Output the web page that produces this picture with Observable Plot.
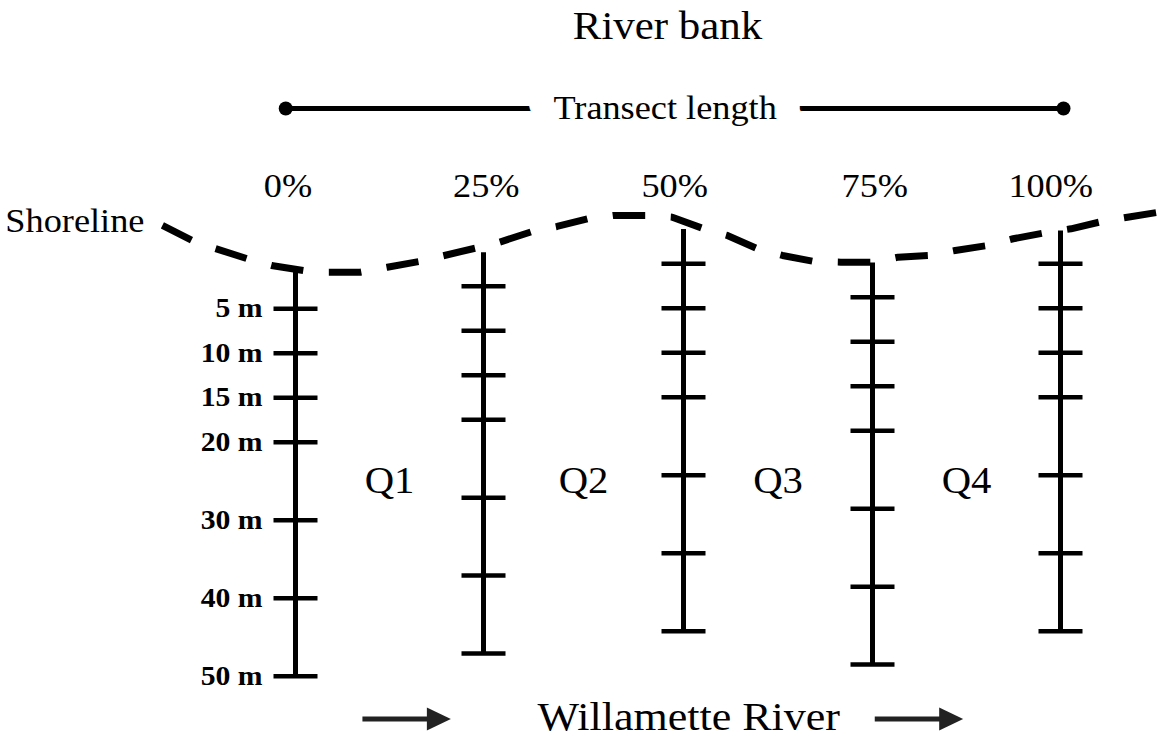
<!DOCTYPE html>
<html>
<head>
<meta charset="utf-8">
<script src="https://cdn.jsdelivr.net/npm/d3@7"></script>
<script src="https://cdn.jsdelivr.net/npm/@observablehq/plot@0.6"></script>
<style>
  html, body { margin: 0; padding: 0; background: #ffffff; }
  #chart { width: 1159px; height: 742px; overflow: hidden; }
</style>
</head>
<body>
<div id="chart"></div>
<script>
// ---------- data ----------
// transect positions along the bank (% of transect length)
const transectPct = [0, 25, 50, 75, 100];
const percentLabels = ["0%", "25%", "50%", "75%", "100%"];
// where each percent label sits (% along bank)
const percentLabelPct = [-1.0, 25.35, 48.9, 75.3, 98.7];
// vertical offset of each transect's 0 m point (m, relative to the first transect)
const transectTop = [0, -2.54, -5.06, -1.30, -5.06];
// depth (m) at which each transect line meets the shoreline
const transectStart = [0.5, 1.2, 1.1, 1.1, 1.25];
// sampling depths along each transect
const tickDepths = [5, 10, 15, 20, 30, 40, 50];
const depthLabels = ["5 m", "10 m", "15 m", "20 m", "30 m", "40 m", "50 m"];
// quadrants between transects
const quadrantNames = ["Q1", "Q2", "Q3", "Q4"];
const quadrantPct = [12.5, 37.5, 62.5, 87.5];
const quadrantDepth = 25;
// shoreline (dashed) : position along bank (%) and level (m relative to first transect 0 m)
const shorePct = [-17.7,-13.7,-10.8,-6.4,-3.2,1.1,4.4,8.6,12.2,16.4,19.8,23.9,27.0,31.1,34.2,38.0,41.2,45.3,48.6,52.7,55.8,59.8,63.1,67.3,70.8,75.2,78.4,82.6,86.0,90.3,93.7,97.9,101.4,105.5,108.9,113.0];
const shoreLevel = [-4.36,-2.67,-1.81,-0.62,0.13,0.70,0.89,0.89,0.33,-0.31,-0.99,-1.81,-2.48,-3.69,-4.25,-5.11,-5.48,-5.48,-5.29,-3.99,-3.24,-1.74,-0.99,-0.31,-0.24,-0.24,-0.80,-0.99,-1.55,-2.11,-2.87,-3.54,-3.99,-4.81,-5.29,-5.85];
// transect-length bar ends (% along bank)
const lengthBarPct = [-1.3, 100.4];
// river flow arrows (% along bank)
const flowStart = [8.9, 75.3];
const flowEnd = [17.6, 84.0];
// annotation rows (m, relative to first transect 0 m)
const titleRow = -26.7, lengthRow = -17.5, percentRow = -8.74, riverRow = 51.1;
const titleText = "River bank", lengthText = "Transect length", riverText = "Willamette River", shoreText = "Shoreline";

// ---------- derived tables ----------
// schematic depth axis: 0–20 m drawn at full scale, 20–50 m compressed
const depthPos = d3.scaleLinear().domain([0, 20, 50]).range([0, 20, 46.28]);
const transects = transectPct.map((p, i) => ({pct: p, top: transectTop[i], start: transectStart[i]}));
const pctLabels = percentLabels.map((l, i) => ({label: l, pct: percentLabelPct[i]}));
const ticks = transects.flatMap(t => tickDepths.map((d, j) => ({pct: t.pct, y: t.top + depthPos(d), label: depthLabels[j]})));
const shore = shorePct.map((p, i) => ({pct: p, y: shoreLevel[i]}));
const quads = quadrantNames.map((q, i) => ({name: q, pct: quadrantPct[i], y: depthPos(quadrantDepth)}));
const flows = flowStart.map((s, i) => ({x1: s, x2: flowEnd[i], y: riverRow}));

const hbar = {draw(ctx) { ctx.moveTo(-22, 0); ctx.lineTo(22, 0); }};
const head = {draw(ctx) { ctx.moveTo(-1, -11.5); ctx.lineTo(23, 0); ctx.lineTo(-1, 11.5); ctx.closePath(); }};

const serif = "'Liberation Serif', 'Times New Roman', Times, serif";

const chart = Plot.plot({
  width: 1159,
  height: 742,
  margin: 0,
  x: {type: "linear", domain: [0, 25, 50, 75, 100], range: [295, 483, 683, 872, 1060], axis: null},
  y: {type: "linear", domain: [-29.64, 53.73], range: [0, 742], axis: null},
  style: {fontFamily: serif, background: "#ffffff", color: "#000"},
  marks: [
    // shoreline
    Plot.line(shore, {x: "pct", y: "y", stroke: "#000", strokeWidth: 7, strokeDasharray: "32.5,25.6", strokeLinecap: "butt", curve: "linear"}),
    // transect lines
    Plot.link(transects, {x1: "pct", x2: "pct", y1: t => t.top + depthPos(t.start), y2: t => t.top + depthPos(50), stroke: "#000", strokeWidth: 5}),
    // sampling ticks
    Plot.dot(ticks, {x: "pct", y: "y", symbol: hbar, r: 5, stroke: "#000", fill: "none", strokeWidth: 4.5}),
    // depth labels on first transect
    Plot.text(ticks.filter(t => t.pct === transectPct[0]), {x: "pct", y: "y", text: "label", textAnchor: "end", dx: -33, fontSize: 27, fontWeight: "bold", fill: "#000", lineAnchor: "middle"}),
    // quadrant labels
    Plot.text(quads, {x: "pct", y: "y", text: "name", fontSize: 37, fill: "#000", lineAnchor: "middle"}),
    // percent labels
    Plot.text(pctLabels, {x: "pct", y: () => percentRow, text: "label", fontSize: 33, fill: "#000", lineAnchor: "middle"}),
    // transect length bar
    Plot.link([lengthBarPct], {x1: d => d[0], x2: d => d[1], y1: () => lengthRow, y2: () => lengthRow, stroke: "#000", strokeWidth: 5}),
    Plot.dot(lengthBarPct, {x: d => d, y: () => lengthRow, r: 7, fill: "#000"}),
    Plot.text([lengthText], {x: () => 47.7, y: () => lengthRow, text: d => d, fontSize: 33, fill: "#000", stroke: "#fff", strokeWidth: 46, lineAnchor: "middle"}),
    // title
    Plot.text([titleText], {x: () => 48, y: () => titleRow, text: d => d, fontSize: 39, fill: "#000", lineAnchor: "middle"}),
    // shoreline label
    Plot.text([shore[0]], {x: "pct", y: "y", text: () => shoreText, textAnchor: "end", dx: -18, dy: -4, fontSize: 33, fill: "#000", lineAnchor: "middle"}),
    // river flow arrows
    Plot.link(flows, {x1: "x1", x2: "x2", y1: "y", y2: "y", stroke: "#222", strokeWidth: 5}),
    Plot.dot(flows, {x: "x2", y: "y", symbol: head, r: 5, fill: "#222", stroke: "none"}),
    Plot.text([riverText], {x: () => 50.7, y: () => riverRow, text: d => d, fontSize: 40, fill: "#000", lineAnchor: "middle", dy: -2})
  ]
});

// the reference lettering is slightly wide: stretch text horizontally around its anchor
chart.querySelectorAll("text").forEach(t => {
  const tr = t.getAttribute("transform");
  if (tr) t.setAttribute("transform", tr + " scale(1.1,1)");
});

document.getElementById("chart").appendChild(chart);
</script>
</body>
</html>
